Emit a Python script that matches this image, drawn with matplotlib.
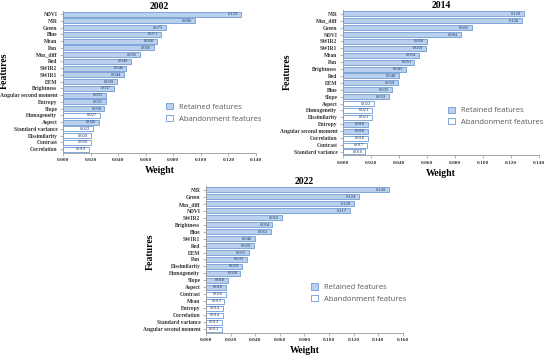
import numpy as np
import matplotlib
matplotlib.use('Agg')
import matplotlib.pyplot as plt
from matplotlib.patches import Patch
from matplotlib.ticker import FormatStrFormatter, MultipleLocator

plt.rcParams['font.family'] = ['Liberation Serif', 'DejaVu Serif']

# 2002
names_2002 = ['NDVI', 'NIR', 'Green', 'Blue', 'Mean', 'Pan', 'Max_diff', 'Red', 'SWIR2', 'SWIR1',
              'DEM', 'Brightness', 'Angular second moment', 'Entropy', 'Slope', 'Homogeneity',
              'Aspect', 'Standard variance', 'Dissimilarity', 'Contrast', 'Correlation']
vals_2002 = [0.129, 0.096, 0.075, 0.071, 0.068, 0.066, 0.056, 0.049, 0.046, 0.044,
             0.039, 0.037, 0.031, 0.031, 0.030, 0.027, 0.026, 0.022, 0.020, 0.020, 0.019]
keep_2002 = [1] * 15 + [0, 1] + [0] * 4

# 2014
names_2014 = ['NIR', 'Max_diff', 'Green', 'NDVI', 'SWIR2', 'SWIR1', 'Mean', 'Pan', 'Brightness',
              'Red', 'DEM', 'Blue', 'Slope', 'Aspect', 'Homogeneity', 'Dissimilarity', 'Entropy',
              'Angular second moment', 'Correlation', 'Contrast', 'Standard variance']
vals_2014 = [0.129, 0.128, 0.092, 0.084, 0.060, 0.059, 0.054, 0.051, 0.045,
             0.040, 0.039, 0.035, 0.033, 0.022, 0.021, 0.021, 0.018,
             0.018, 0.018, 0.017, 0.016]
keep_2014 = [1] * 13 + [0, 0, 0, 1, 1, 0, 0, 0]

# 2022
names_2022 = ['NIR', 'Green', 'Max_diff', 'NDVI', 'SWIR2', 'Brightness', 'Blue', 'SWIR1', 'Red',
              'DEM', 'Pan', 'Dissimilarity', 'Homogeneity', 'Slope', 'Aspect', 'Contrast', 'Mean',
              'Entropy', 'Correlation', 'Standard variance', 'Angular second moment']
vals_2022 = [0.149, 0.124, 0.120, 0.117, 0.062, 0.054, 0.053, 0.040, 0.039,
             0.035, 0.033, 0.029, 0.028, 0.018, 0.016, 0.016, 0.015,
             0.014, 0.014, 0.013, 0.013]
keep_2022 = [1] * 15 + [0] * 6

blue_fill = '#b9d1ee'
blue_edge = '#6f9bd3'
txt_col = '#333333'


def draw(ax, title, names, vals, keep, xmax, leg_pos, ylab_xy):
    y = np.arange(len(names))
    colors = [blue_fill if k else 'white' for k in keep]
    ax.barh(y, vals, height=0.72, color=colors, edgecolor=blue_edge, linewidth=0.6)
    for yi, v in zip(y, vals):
        ax.annotate('%.3f' % v, xy=(v, yi), xytext=(-2, 0), textcoords='offset points',
                    ha='right', va='center', fontsize=3.3, color='#203864')
    ax.set_ylim(len(names) - 0.5, -0.5)
    ax.set_yticks(y)
    ax.set_yticklabels(names, fontsize=4.0, fontweight='bold', color=txt_col)
    ax.set_xlim(0, xmax)
    ax.xaxis.set_major_locator(MultipleLocator(0.02))
    ax.xaxis.set_major_formatter(FormatStrFormatter('%.3f'))
    for lab in ax.get_xticklabels():
        lab.set_fontsize(3.8)
        lab.set_fontweight('bold')
        lab.set_color(txt_col)
    ax.tick_params(axis='both', length=2, width=0.5, color='#999999', pad=2)
    for s in ['top', 'right']:
        ax.spines[s].set_visible(False)
    for s in ['left', 'bottom']:
        ax.spines[s].set_color('#999999')
        ax.spines[s].set_linewidth(0.6)
    ax.set_title(title, fontsize=7, fontweight='bold', pad=1.5)
    ax.set_xlabel('Weight', fontsize=7, fontweight='bold', labelpad=3)
    ax.set_ylabel('Features', fontsize=7, fontweight='bold')
    ax.yaxis.set_label_coords(*ylab_xy)
    handles = [Patch(facecolor=blue_fill, edgecolor=blue_edge, linewidth=0.6, label='Retained features'),
               Patch(facecolor='white', edgecolor=blue_edge, linewidth=0.6, label='Abandonment features')]
    ax.legend(handles=handles, loc='center left', bbox_to_anchor=leg_pos, frameon=False,
              prop={'family': 'Open Sans', 'size': 5.5}, labelcolor='#595959',
              handlelength=0.9, handleheight=0.9, handletextpad=0.8, labelspacing=0.5)


fig = plt.figure(figsize=(5.5, 3.58), dpi=100)
ax1 = fig.add_axes([0.1145, 0.574, 0.351, 0.396])
ax2 = fig.add_axes([0.6236, 0.566, 0.3564, 0.405])
ax3 = fig.add_axes([0.3745, 0.0712, 0.3582, 0.408])

draw(ax1, '2002', names_2002, vals_2002, keep_2002, 0.14, (0.5, 0.28), (-0.28, 0.58))
draw(ax2, '2014', names_2014, vals_2014, keep_2014, 0.14, (0.5, 0.27), (-0.26, 0.576))
draw(ax3, '2022', names_2022, vals_2022, keep_2022, 0.16, (0.5, 0.27), (-0.26, 0.55))

fig.savefig('out.png', dpi=100, facecolor='white')
